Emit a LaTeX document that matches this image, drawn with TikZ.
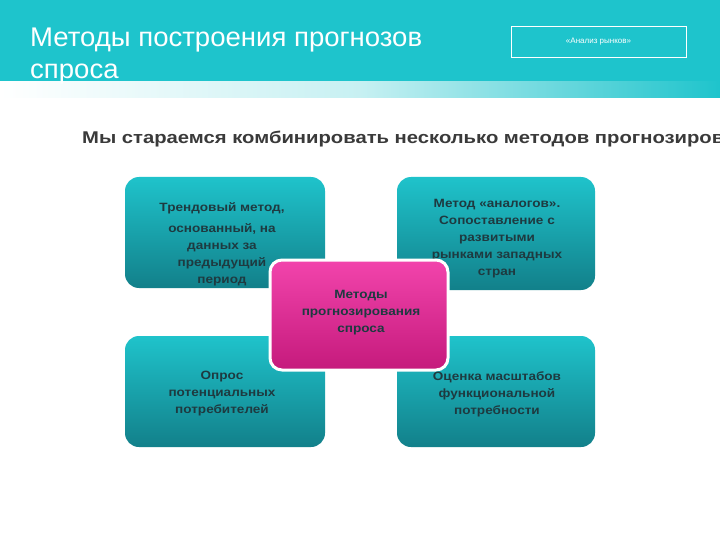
\documentclass[tikz,border=0pt]{standalone}
\usepackage{fontspec}
\setmainfont{Liberation Sans}
\definecolor{teal1}{HTML}{1EC4CC}
\definecolor{tealT}{HTML}{1FC3CB}
\definecolor{tealB}{HTML}{12808A}
\definecolor{pinkT}{HTML}{F244AC}
\definecolor{pinkB}{HTML}{C51A7C}
\definecolor{txt}{HTML}{1E3A40}
\definecolor{sub}{HTML}{3A3A3A}
\begin{document}
\begin{tikzpicture}[x=1pt,y=-1pt,
  card/.style={rounded corners=14pt,top color=tealT,bottom color=tealB,draw=none},
  lbl/.style={font=\fontsize{12}{17}\selectfont\bfseries,text=txt,align=center,inner sep=0pt,xscale=1.13}]
\useasboundingbox (0,0) rectangle (720,540);
\clip (0,0) rectangle (720,540);
\fill[white] (0,0) rectangle (720,540);
\fill[teal1] (0,0) rectangle (720,82);
\shade[left color=white,right color=teal1,middle color=white!75!teal1] (0,82) rectangle (720,98);
\node[anchor=west,text=white,font=\fontsize{27}{32}\selectfont,align=left,inner sep=0pt,xscale=1.02] (title) at (30,56) {Методы построения прогнозов\\спроса};
\node[draw=white,line width=0.8pt,minimum width=175pt,minimum height=31pt] (tag) at (598.5,41.5) {};
\node[text=white,font=\fontsize{8}{9}\selectfont] (tagt) at (598.5,42) {«Анализ рынков»};
\node[anchor=west,text=sub,font=\fontsize{17}{20}\selectfont\bfseries,inner sep=0pt,xscale=1.19] (subt) at (82,139) {Мы стараемся комбинировать несколько методов прогнозирования};
\path[card] (125,177) rectangle (325,288);
\path[card] (397,177) rectangle (595,290);
\path[card] (125,336) rectangle (325,447);
\path[card] (397,336) rectangle (595,447);
\node[lbl,anchor=north] (tl) at (222,202) {Трендовый метод,\\[4pt]основанный, на\\данных за\\предыдущий\\период};
\node[lbl,anchor=north] (tr) at (497,199) {Метод «аналогов».\\Сопоставление с\\развитыми\\рынками западных\\стран};
\path[rounded corners=12pt,top color=pinkT,bottom color=pinkB,draw=white,line width=3pt] (270,260) rectangle (448,370);
\node[lbl] (c) at (361,313) {Методы\\прогнозирования\\спроса};
\node[lbl] (bl) at (222,394) {Опрос\\потенциальных\\потребителей};
\node[lbl] (br) at (497,394) {Оценка масштабов\\функциональной\\потребности};
\end{tikzpicture}
\end{document}
